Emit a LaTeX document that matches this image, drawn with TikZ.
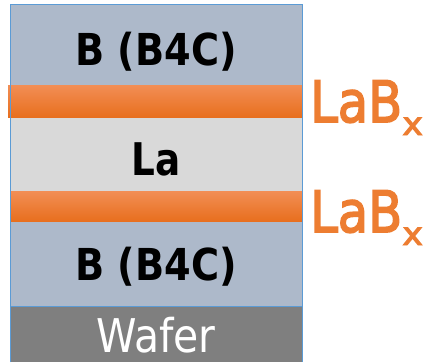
\documentclass[tikz,border=0pt]{standalone}
\usepackage{fontspec}
\setmainfont{DejaVu Sans}
\newfontfamily\semibfont[FakeBold=3]{DejaVu Sans}
\definecolor{bgray}{HTML}{ADB9CA}
\definecolor{lgray}{HTML}{D9D9D9}
\definecolor{dgray}{HTML}{7F7F7F}
\definecolor{org}{HTML}{ED7D31}
\definecolor{orglt}{HTML}{F28E55}
\definecolor{orgdk}{HTML}{E86F1E}
\definecolor{edgeblue}{HTML}{5B9BD5}
\tikzset{
  lbl/.style={inner sep=0pt, anchor=base},
  orgband/.style={top color=orglt, bottom color=orgdk},
  lab/.style={inner sep=0pt, anchor=base west, text=org}
}
\newcommand{\bfont}{\fontsize{44}{44}\selectfont\bfseries}
\newcommand{\labx}{\fontsize{57}{57}\semibfont\scalebox{0.87}[1]{LaB}\raisebox{-13pt}{\fontsize{32}{32}\semibfont\scalebox{1.1}[1]{x}}}
\begin{document}
\begin{tikzpicture}[x=1pt,y=-1pt]
\useasboundingbox (0,0) rectangle (434,362);
\fill[bgray] (10.5,4) rectangle (302,306);
\fill[lgray] (10.5,117) rectangle (302,191);
\fill[dgray] (10.5,306) rectangle (302,362);
\shade[orgband] (8,85) rectangle (302,117);
\shade[orgband] (10.5,191) rectangle (302,221);
\draw[edgeblue, line width=0.9pt] (10.5,362) -- (10.5,4) -- (302,4) -- (302,362);
\draw[edgeblue, line width=0.9pt] (10.5,306) -- (302,306);
\node[lbl] (b1) at (156,65) {\bfont\scalebox{0.87}[1]{B (B4C)}};
\node[lbl] (la) at (156,175) {\fontsize{45}{45}\selectfont\bfseries\scalebox{0.83}[1]{La}};
\node[lbl] (b2) at (156,280) {\bfont\scalebox{0.87}[1]{B (B4C)}};
\node[lbl, text=white] (wafer) at (156,352) {\fontsize{46.5}{46.5}\selectfont\scalebox{0.88}[1]{Wafer}};
\node[lab] (lab1) at (310,122) {\labx};
\node[lab] (lab2) at (310,232) {\labx};
\end{tikzpicture}
\end{document}
